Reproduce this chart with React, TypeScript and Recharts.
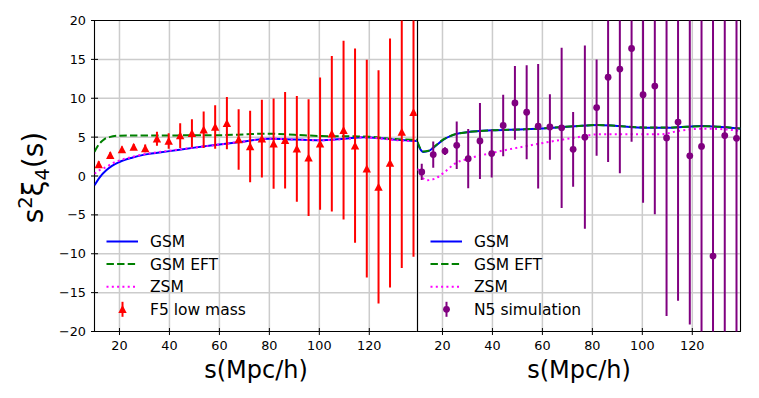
import React from "react";
import { ComposedChart, Line, Scatter, ErrorBar, XAxis, YAxis, CartesianGrid, Legend } from "recharts";

// bin centres s (Mpc/h), same for both panels
const sBins = [11.7, 16.3, 21.0, 25.7, 30.3, 35.0, 39.7, 44.3, 49.0, 53.7, 58.3, 63.0, 67.7, 72.3, 77.0, 81.7, 86.3, 91.0, 95.7, 100.3, 105.0, 109.7, 114.3, 119.0, 123.7, 128.3, 133.0, 137.7];

// F5 low mass (left panel)
const f5Vals = [1.5, 2.66, 3.4, 3.73, 3.55, 4.8, 4.5, 5.2, 5.5, 5.96, 6.3, 6.8, 4.7, 3.8, 4.8, 4.16, 4.6, 3.5, 2.36, 4.16, 5.45, 5.9, 3.9, 0.95, -1.4, 1.67, 5.66, 8.2];
const f5Errs = [0.4, 0.4, 0.4, 0.4, 0.5, 0.9, 1.0, 1.6, 1.8, 2.35, 2.8, 3.35, 3.9, 4.6, 5.0, 5.8, 6.2, 6.8, 7.5, 8.5, 10.0, 11.5, 12.5, 14.0, 15.0, 16.0, 17.5, 18.6];

// N5 simulation (right panel)
const n5Vals = [0.52, 2.75, 3.2, 3.95, 2.23, 4.5, 2.88, 6.5, 9.4, 8.2, 6.4, 6.3, 6.2, 3.43, 5.0, 8.8, 12.7, 13.75, 16.4, 10.46, 11.57, 4.9, 6.94, 2.6, 3.8, -10.3, 5.2, 4.85];
const n5Errs = [1.05, 1.7, 0.5, 3.06, 3.8, 4.9, 3.07, 3.95, 4.75, 6.05, 8.0, 4.2, 10.3, 4.8, 11.8, 6.2, 10.9, 13.4, 12.0, 13.9, 16.5, 22.9, 23.0, 21.7, 26.0, 34.0, 30.0, 30.0];

// model curves, left panel
const gsmLS = [10, 12, 14.7, 17, 20, 25, 30, 40, 50, 60, 70, 80, 90, 100, 110, 118, 125, 131, 139.3];
const gsmLY = [-1.2, -0.2, 0.73, 1.3, 1.8, 2.35, 2.75, 3.2, 3.65, 4.05, 4.45, 4.8, 4.7, 4.6, 4.8, 5.0, 4.85, 4.65, 4.5];
const eftLS = [10, 11, 12.6, 14, 16, 20, 30, 40, 50, 60, 70, 78, 90, 101, 114, 120, 128, 139.3];
const eftLY = [3.1, 3.7, 4.37, 4.75, 5.0, 5.19, 5.2, 5.2, 5.25, 5.25, 5.35, 5.45, 5.3, 5.14, 5.1, 5.05, 4.8, 4.65];
const zsmLS = [10, 12, 14.7, 17, 20, 25, 30, 40, 50, 60, 70, 80, 90, 100, 110, 118, 125, 131, 139.3];
const zsmLY = [0.3, 0.75, 1.16, 1.6, 2.0, 2.45, 2.8, 3.25, 3.65, 4.05, 4.45, 4.8, 4.7, 4.6, 4.75, 4.95, 4.8, 4.6, 4.45];

// model curves, right panel
const gsmRS = [10, 11, 12.4, 14.4, 17, 20.4, 25, 30.4, 40, 53, 73, 82, 90, 101, 112, 123.6, 130, 139.3];
const gsmRY = [4.3, 3.5, 3.1, 3.2, 3.8, 4.67, 5.36, 5.65, 5.87, 6.0, 6.39, 6.56, 6.43, 6.22, 6.22, 6.43, 6.35, 6.09];
const eftRS = [10, 11, 12.4, 14.4, 17, 20.4, 25, 30.4, 40, 53, 73, 82, 90, 101, 112, 123.6, 130, 139.3];
const eftRY = [4.4, 3.6, 3.15, 3.25, 3.85, 4.7, 5.36, 5.65, 5.87, 6.0, 6.4, 6.55, 6.45, 6.25, 6.25, 6.4, 6.35, 6.1];
const zsmRS = [10, 12, 13.7, 17, 20.4, 25, 30.4, 39.7, 53, 62.4, 73, 82.3, 94, 107.6, 114.3, 125, 133, 139.3];
const zsmRY = [0.95, -0.2, -0.55, -0.34, 0.39, 1.6, 2.23, 2.96, 3.82, 4.37, 4.93, 5.36, 5.36, 5.36, 5.79, 6.09, 6.0, 5.79];

const xTicks = [20, 40, 60, 80, 100, 120];
const yTicks = [-20, -15, -10, -5, 0, 5, 10, 15, 20];
const yGrid = [-15, -10, -5, 0, 5, 10, 15];

const FONT = "DejaVu Sans";
const X_DOMAIN = [10, 139.3];
const Y_DOMAIN = [-20, 20];
const PLOT_W = 323;
const PLOT_TOP = 20.5;
const PLOT_H = 311;

const toPts = (xs: number[], ys: number[]) => xs.map((x, i) => ({ x, y: ys[i] }));
const toErr = (vals: number[], errs: number[]) => sBins.map((x, i) => ({ x, y: vals[i], e: errs[i] }));

const fmt = (v: number) => (v < 0 ? `\u2212${Math.abs(v)}` : `${v}`);

function YTick(props: any) {
  const { x, y, payload, label } = props;
  return (
    <g>
      <line x1={x - 3.5} x2={x + 3.5} y1={y} y2={y} stroke="#000" strokeWidth={1} />
      {label && (
        <text x={x - 8.5} y={y} dy={4.6} textAnchor="end" fontSize={12.8} fontFamily={FONT} fill="#000">
          {fmt(payload.value)}
        </text>
      )}
    </g>
  );
}

function XTick(props: any) {
  const { x, y, payload } = props;
  return (
    <g>
      <line x1={x} x2={x} y1={y - 3.5} y2={y + 3.5} stroke="#000" strokeWidth={1} />
      <text x={x} y={y + 18.5} textAnchor="middle" fontSize={12.8} fontFamily={FONT} fill="#000">
        {payload.value}
      </text>
    </g>
  );
}

function YLabel() {
  return (
    <text x={42.5} y={177.5} transform="rotate(-90 42.5 177.5)" textAnchor="middle" fontSize={28} fontFamily={FONT} fill="#000">
      s<tspan fontSize={19.6} dy={-11}>2</tspan>
      <tspan dy={11}>ξ</tspan>
      <tspan fontSize={19.6} dy={6}>4</tspan>
      <tspan dy={-6}>(s)</tspan>
    </text>
  );
}

const Triangle = (p: any) => (
  <polygon points={`${p.cx},${p.cy - 4.2} ${p.cx - 4.2},${p.cy + 3.8} ${p.cx + 4.2},${p.cy + 3.8}`} fill="#ff0000" />
);
const Dot = (p: any) => <circle cx={p.cx} cy={p.cy} r={3.4} fill="#800080" />;

type Item = { label: string; kind: string; color: string };

function LegendBox({ items }: { items: Item[] }) {
  return (
    <svg width={200} height={95} style={{ display: "block" }}>
      {items.map((it, i) => {
        const cy = 13.5 + i * 22.6;
        let mark: React.ReactNode = null;
        if (it.kind === "solid") mark = <line x1={6.5} x2={38} y1={cy} y2={cy} stroke={it.color} strokeWidth={2} />;
        if (it.kind === "dash") mark = <line x1={6.5} x2={38} y1={cy} y2={cy} stroke={it.color} strokeWidth={2} strokeDasharray="7.4 3.2" />;
        if (it.kind === "dot") mark = <line x1={6.5} x2={38} y1={cy} y2={cy} stroke={it.color} strokeWidth={2} strokeDasharray="2 3.3" />;
        if (it.kind === "tri")
          mark = (
            <g>
              <line x1={22.5} x2={22.5} y1={cy - 7.5} y2={cy + 7.5} stroke={it.color} strokeWidth={2} />
              <polygon points={`22.5,${cy - 4.2} 18.3,${cy + 3.8} 26.7,${cy + 3.8}`} fill={it.color} />
            </g>
          );
        if (it.kind === "circ")
          mark = (
            <g>
              <line x1={22.5} x2={22.5} y1={cy - 7.5} y2={cy + 7.5} stroke={it.color} strokeWidth={2} />
              <circle cx={22.5} cy={cy} r={3.4} fill={it.color} />
            </g>
          );
        return (
          <g key={it.label}>
            {mark}
            <text x={50} y={cy + 5.7} fontSize={15.5} fontFamily={FONT} fill="#000">
              {it.label}
            </text>
          </g>
        );
      })}
    </svg>
  );
}

const leftItems: Item[] = [
  { label: "GSM", kind: "solid", color: "#0000ff" },
  { label: "GSM EFT", kind: "dash", color: "#008000" },
  { label: "ZSM", kind: "dot", color: "#ff00ff" },
  { label: "F5 low mass", kind: "tri", color: "#ff0000" },
];
const rightItems: Item[] = [
  { label: "GSM", kind: "solid", color: "#0000ff" },
  { label: "GSM EFT", kind: "dash", color: "#008000" },
  { label: "ZSM", kind: "dot", color: "#ff00ff" },
  { label: "N5 simulation", kind: "circ", color: "#800080" },
];

// one panel; plot box sits at (marginLeft + yAxisWidth, PLOT_TOP) inside its own svg
function Panel(props: {
  width: number;
  marginLeft: number;
  yAxisWidth: number;
  clipId: string;
  tickLabels: boolean;
  yLabel: boolean;
  gsm: { x: number; y: number }[];
  eft: { x: number; y: number }[];
  zsm: { x: number; y: number }[];
  points: { x: number; y: number; e: number }[];
  shape: any;
  color: string;
  items: Item[];
  legendLeft: number;
}) {
  const plotLeft = props.marginLeft + props.yAxisWidth;
  return (
    <ComposedChart
      width={props.width}
      height={398}
      margin={{ top: PLOT_TOP, right: props.width - plotLeft - PLOT_W, left: props.marginLeft, bottom: 0 }}
    >
      <defs>
        <clipPath id={props.clipId}>
          <rect x={plotLeft} y={PLOT_TOP} width={PLOT_W} height={PLOT_H} />
        </clipPath>
      </defs>
      <CartesianGrid yAxisId="a" horizontalValues={yGrid} stroke="#cccccc" strokeWidth={1.5} />
      <XAxis
        type="number"
        dataKey="x"
        domain={X_DOMAIN}
        ticks={xTicks}
        allowDataOverflow
        height={398 - PLOT_TOP - PLOT_H}
        axisLine={false}
        tickLine={false}
        tickSize={0}
        tickMargin={0}
        tick={<XTick />}
        label={{ value: "s(Mpc/h)", position: "insideBottom", offset: 20, style: { fontSize: 24, fontFamily: FONT, fill: "#000" } }}
      />
      <YAxis
        yAxisId="a"
        type="number"
        dataKey="y"
        domain={Y_DOMAIN}
        ticks={yTicks}
        allowDataOverflow
        width={props.yAxisWidth}
        axisLine={false}
        tickLine={false}
        tickSize={0}
        tickMargin={0}
        tick={<YTick label={props.tickLabels} />}
        label={props.yLabel ? <YLabel /> : undefined}
      />
      <YAxis
        yAxisId="b"
        orientation="right"
        type="number"
        domain={Y_DOMAIN}
        ticks={yTicks}
        allowDataOverflow
        width={0}
        axisLine={false}
        tickLine={false}
        tickSize={0}
        tickMargin={0}
        tick={<YTick />}
      />
      <Line yAxisId="a" data={props.gsm} dataKey="y" type="monotone" stroke="#0000ff" strokeWidth={2} dot={false} isAnimationActive={false} />
      <Line yAxisId="a" data={props.eft} dataKey="y" type="monotone" stroke="#008000" strokeWidth={2} strokeDasharray="7.4 3.2" dot={false} isAnimationActive={false} />
      <Line yAxisId="a" data={props.zsm} dataKey="y" type="monotone" stroke="#ff00ff" strokeWidth={2} strokeDasharray="2 3.3" dot={false} isAnimationActive={false} />
      <Scatter yAxisId="a" data={props.points} shape={props.shape} isAnimationActive={false}>
        <ErrorBar dataKey="e" direction="y" width={0} stroke={props.color} strokeWidth={2} clipPath={`url(#${props.clipId})`} isAnimationActive={false} />
      </Scatter>
      {/* axes frame */}
      <rect x={plotLeft} y={PLOT_TOP} width={PLOT_W} height={PLOT_H} fill="none" stroke="#000" strokeWidth={1} />
      <Legend
        layout="vertical"
        align="center"
        verticalAlign="middle"
        content={() => <LegendBox items={props.items} />}
        wrapperStyle={{ left: props.legendLeft, top: 228, width: 200, height: 95 }}
      />
    </ComposedChart>
  );
}

export default function App() {
  return (
    <div style={{ position: "absolute", left: 0, top: 0, width: 759, height: 398, background: "#fff" }}>
      {/* left panel: F5 low mass */}
      <div style={{ position: "absolute", left: 0, top: 0 }}>
        <Panel
          width={430}
          marginLeft={0}
          yAxisWidth={94.5}
          clipId="clipLeft"
          tickLabels
          yLabel
          gsm={toPts(gsmLS, gsmLY)}
          eft={toPts(eftLS, eftLY)}
          zsm={toPts(zsmLS, zsmLY)}
          points={toErr(f5Vals, f5Errs)}
          shape={Triangle}
          color="#ff0000"
          items={leftItems}
          legendLeft={100}
        />
      </div>
      {/* right panel: N5 simulation */}
      <div style={{ position: "absolute", left: 400, top: 0 }}>
        <Panel
          width={359}
          marginLeft={17.5}
          yAxisWidth={0}
          clipId="clipRight"
          tickLabels={false}
          yLabel={false}
          gsm={toPts(gsmRS, gsmRY)}
          eft={toPts(eftRS, eftRY)}
          zsm={toPts(zsmRS, zsmRY)}
          points={toErr(n5Vals, n5Errs)}
          shape={Dot}
          color="#800080"
          items={rightItems}
          legendLeft={24}
        />
      </div>
    </div>
  );
}
